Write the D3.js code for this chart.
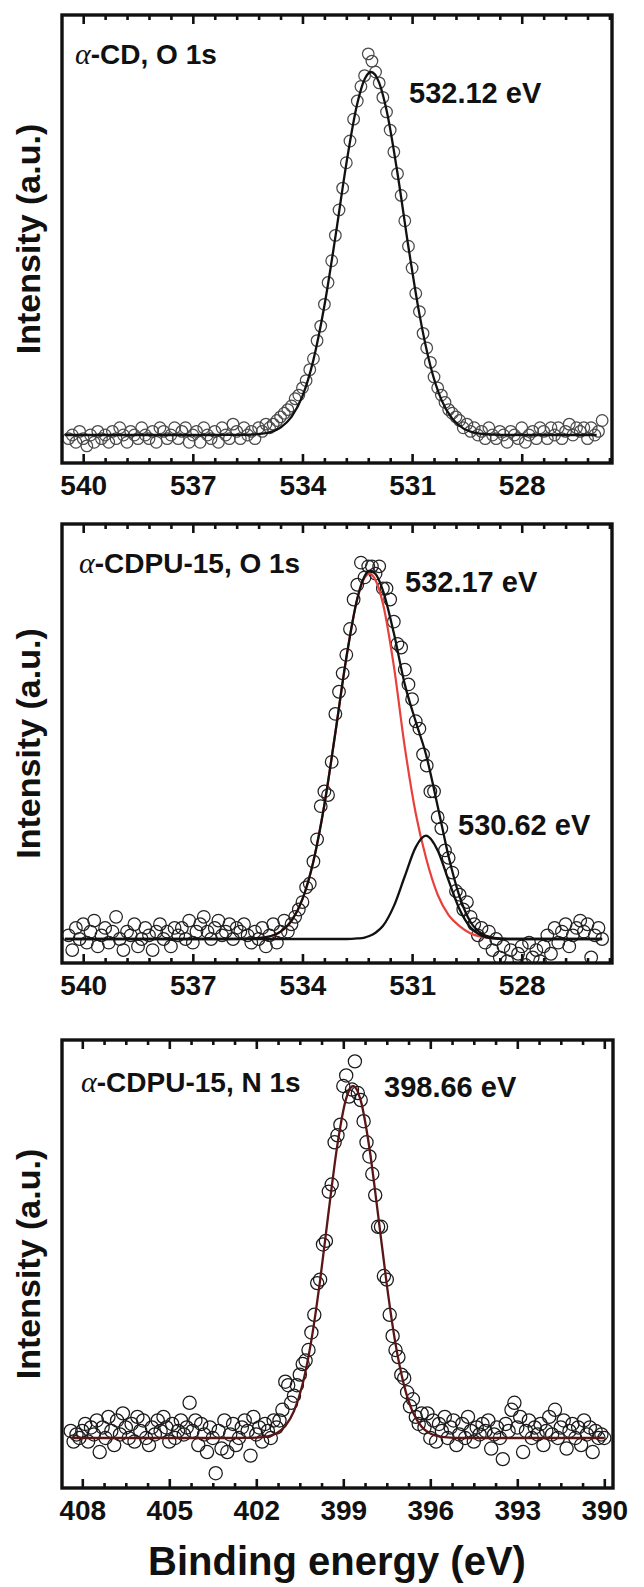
<!DOCTYPE html>
<html>
<head>
<meta charset="utf-8">
<script src="https://cdn.jsdelivr.net/npm/d3@7"></script>
<style>
  body { margin: 0; background: #fff; }
  svg text { font-family: "Liberation Sans", Arial, sans-serif; font-weight: bold; fill: #111; }
</style>
</head>
<body>
<svg id="chart" width="644" height="1587"></svg>
<script>
// ---- O 1s scans (shared energy grid, eV) ----
const oEnergy = [
  540.4,540.3,540.2,540.1,540.0,539.9,539.8,539.7,539.6,539.5,
  539.4,539.3,539.2,539.1,539.0,538.9,538.8,538.7,538.6,538.5,
  538.4,538.3,538.2,538.1,538.0,537.9,537.8,537.7,537.6,537.5,
  537.4,537.3,537.2,537.1,537.0,536.9,536.8,536.7,536.6,536.5,
  536.4,536.3,536.2,536.1,536.0,535.9,535.8,535.7,535.6,535.5,
  535.4,535.3,535.2,535.1,535.0,534.9,534.8,534.7,534.6,534.5,
  534.4,534.3,534.2,534.1,534.0,533.9,533.8,533.7,533.6,533.5,
  533.4,533.3,533.2,533.1,533.0,532.9,532.8,532.7,532.6,532.5,
  532.4,532.3,532.2,532.1,532.0,531.9,531.8,531.7,531.6,531.5,
  531.4,531.3,531.2,531.1,531.0,530.9,530.8,530.7,530.6,530.5,
  530.4,530.3,530.2,530.1,530.0,529.9,529.8,529.7,529.6,529.5,
  529.4,529.3,529.2,529.1,529.0,528.9,528.8,528.7,528.6,528.5,
  528.4,528.3,528.2,528.1,528.0,527.9,527.8,527.7,527.6,527.5,
  527.4,527.3,527.2,527.1,527.0,526.9,526.8,526.7,526.6,526.5,
  526.4,526.3,526.2,526.1,526.0,525.9,525.8
];

// alpha-CD, O 1s (normalised intensity)
const cdO1s = [
  -0.01,0.00,-0.02,0.01,-0.01,-0.03,0.00,-0.02,0.01,-0.01,
  0.00,-0.02,0.01,-0.01,0.02,0.00,-0.02,0.01,0.00,-0.01,
  0.02,0.00,-0.01,0.01,-0.02,0.02,0.01,-0.01,0.00,0.02,
  -0.01,0.01,0.02,-0.02,0.00,0.01,-0.02,0.02,0.00,-0.01,
  0.01,-0.02,0.02,0.00,-0.01,0.03,0.01,-0.01,0.02,0.00,
  0.01,-0.01,0.02,0.01,0.03,0.02,0.03,0.04,0.05,0.06,
  0.07,0.08,0.10,0.11,0.13,0.15,0.18,0.21,0.26,0.30,
  0.36,0.42,0.48,0.55,0.62,0.68,0.75,0.81,0.87,0.92,
  0.96,0.99,1.05,1.03,1.00,0.97,0.93,0.89,0.84,0.78,
  0.72,0.66,0.59,0.52,0.46,0.39,0.34,0.28,0.24,0.20,
  0.16,0.13,0.11,0.09,0.07,0.06,0.05,0.04,0.02,0.03,
  0.01,0.02,0.00,0.01,-0.01,0.02,0.00,-0.01,0.01,0.00,
  -0.02,0.01,0.00,-0.01,0.02,-0.02,0.00,0.01,-0.01,0.02,
  0.01,-0.01,0.02,0.00,0.02,-0.01,0.01,0.03,0.00,0.02,
  0.01,0.02,-0.01,0.02,0.00,0.01,0.04
];

// alpha-CDPU-15, O 1s (normalised intensity)
const cdpuO1s = [
  0.01,-0.03,0.03,0.00,0.04,-0.01,0.02,0.05,-0.02,0.01,
  0.03,-0.01,0.02,0.06,0.00,-0.03,0.02,0.01,0.04,-0.02,
  0.00,0.03,0.01,-0.03,0.02,0.04,0.00,0.02,-0.02,0.03,
  0.01,0.03,0.00,0.05,-0.01,0.02,0.04,0.06,0.02,0.00,
  0.03,0.05,0.01,0.02,0.04,0.00,0.03,0.02,0.04,0.01,
  -0.01,0.02,0.00,0.03,-0.02,0.01,0.04,-0.01,0.02,0.05,
  0.02,0.04,0.06,0.08,0.10,0.14,0.15,0.21,0.27,0.36,
  0.40,0.39,0.48,0.61,0.67,0.72,0.77,0.84,0.92,0.96,
  1.02,0.98,1.01,1.01,0.99,1.01,0.95,0.95,0.92,0.86,
  0.80,0.79,0.73,0.69,0.65,0.59,0.57,0.50,0.47,0.40,
  0.40,0.33,0.30,0.24,0.22,0.18,0.13,0.12,0.08,0.10,
  0.06,0.04,0.01,0.03,-0.01,0.02,-0.03,0.00,-0.05,-0.02,
  -0.06,-0.03,-0.08,-0.04,-0.02,-0.07,-0.01,-0.05,-0.03,-0.06,
  -0.02,0.01,-0.04,0.03,-0.01,0.02,0.04,-0.02,0.01,0.03,
  0.05,0.02,0.04,-0.05,0.01,0.03,0.00
];

// ---- N 1s scan ----
const nEnergy = [
  408.4,408.3,
  408.2,408.1,408.0,407.9,407.8,407.7,407.6,407.5,407.4,407.3,
  407.2,407.1,407.0,406.9,406.8,406.7,406.6,406.5,406.4,406.3,
  406.2,406.1,406.0,405.9,405.8,405.7,405.6,405.5,405.4,405.3,
  405.2,405.1,405.0,404.9,404.8,404.7,404.6,404.5,404.4,404.3,
  404.2,404.1,404.0,403.9,403.8,403.7,403.6,403.5,403.4,403.3,
  403.2,403.1,403.0,402.9,402.8,402.7,402.6,402.5,402.4,402.3,
  402.2,402.1,402.0,401.9,401.8,401.7,401.6,401.5,401.4,401.3,
  401.2,401.1,401.0,400.9,400.8,400.7,400.6,400.5,400.4,400.3,
  400.2,400.1,400.0,399.9,399.8,399.7,399.6,399.5,399.4,399.3,
  399.2,399.1,399.0,398.9,398.8,398.7,398.6,398.5,398.4,398.3,
  398.2,398.1,398.0,397.9,397.8,397.7,397.6,397.5,397.4,397.3,
  397.2,397.1,397.0,396.9,396.8,396.7,396.6,396.5,396.4,396.3,
  396.2,396.1,396.0,395.9,395.8,395.7,395.6,395.5,395.4,395.3,
  395.2,395.1,395.0,394.9,394.8,394.7,394.6,394.5,394.4,394.3,
  394.2,394.1,394.0,393.9,393.8,393.7,393.6,393.5,393.4,393.3,
  393.2,393.1,393.0,392.9,392.8,392.7,392.6,392.5,392.4,392.3,
  392.2,392.1,392.0,391.9,391.8,391.7,391.6,391.5,391.4,391.3,
  391.2,391.1,391.0,390.9,390.8,390.7,390.6,390.5,390.4,390.3,
  390.2,390.1,390.0
];

// alpha-CDPU-15, N 1s (normalised intensity)
const cdpuN1s = [
  0.02,-0.01,
  0.01,0.00,0.02,0.04,-0.01,0.03,0.01,0.05,-0.04,0.03,
  0.00,0.06,0.02,-0.02,0.05,0.01,0.07,0.03,0.00,0.04,
  -0.01,0.06,0.02,0.05,0.00,-0.02,0.03,0.01,0.05,0.02,
  0.06,0.03,-0.01,0.04,0.00,0.02,0.05,0.01,0.03,0.10,
  0.02,0.05,-0.02,0.04,0.01,-0.04,0.03,0.00,-0.10,0.02,
  -0.03,0.05,-0.04,0.01,0.04,-0.02,0.00,0.03,0.05,0.02,
  -0.05,0.06,0.01,0.03,-0.01,0.04,0.02,0.00,0.05,0.03,
  0.05,0.08,0.16,0.15,0.10,0.12,0.15,0.18,0.21,0.22,
  0.25,0.30,0.35,0.44,0.45,0.55,0.56,0.70,0.72,0.84,
  0.86,0.89,1.00,1.03,0.97,0.99,1.07,0.98,0.96,0.90,
  0.84,0.80,0.75,0.69,0.60,0.60,0.46,0.45,0.35,0.29,
  0.25,0.23,0.18,0.17,0.13,0.09,0.11,0.06,0.04,0.07,
  0.03,0.07,0.00,0.05,-0.01,0.04,0.02,0.06,0.00,0.03,
  0.05,-0.02,0.01,0.04,0.00,0.06,0.02,-0.01,0.03,0.01,
  0.04,0.02,0.05,-0.03,0.01,0.03,0.00,-0.06,0.04,0.02,
  0.08,0.10,0.03,0.06,-0.04,0.02,0.05,0.00,0.03,0.01,
  0.04,-0.02,0.02,0.06,0.01,0.08,0.00,0.03,0.05,-0.03,
  0.02,0.04,0.00,0.03,-0.02,0.05,0.01,0.03,-0.04,0.02,
  0.00,0.01,0.00
];

// ---- fitted components ----
const cdFitEnergy = [540.5,537.0,536.0,535.5,535.0,534.6,534.3,534.0,533.7,533.4,533.1,532.8,532.5,532.3,532.12,
  531.9,531.7,531.4,531.1,530.8,530.5,530.2,529.9,529.6,529.2,528.8,528.0,525.95];
const cdFit = [0,0,0.0001,0.0007,0.0053,0.0206,0.0498,0.107,0.207,0.356,0.545,0.747,0.913,0.980,1.0,
  0.970,0.895,0.721,0.518,0.333,0.191,0.0976,0.0446,0.0182,0.0046,0.001,0,0];

const cdpuOFitEnergy = [540.5,537.0,536.0,535.5,535.0,534.6,534.3,534.0,533.7,533.4,533.1,532.8,532.5,532.3,532.17,
  532.0,531.8,531.5,531.2,530.9,530.62,530.3,530.0,529.7,529.4,529.1,528.8,528.4,528.0,525.8];
const cdpuOMain = [0,0,0,0.001,0.005,0.020,0.049,0.108,0.211,0.364,0.559,0.762,0.921,0.979,0.99,
  0.972,0.910,0.74,0.52,0.34,0.22,0.12,0.065,0.035,0.015,0.006,0.002,0,0,0];
const cdpuOMinor = [0,0,0,0,0,0,0,0,0,0,0,0,0.0015,0.004,0.008,
  0.017,0.035,0.089,0.17,0.249,0.28,0.24,0.158,0.08,0.031,0.009,0.002,0,0,0];
const cdpuOEnvelope = [0,0,0,0.001,0.005,0.020,0.049,0.108,0.211,0.364,0.559,0.762,0.923,0.983,0.998,
  0.989,0.945,0.829,0.69,0.589,0.50,0.36,0.223,0.115,0.046,0.015,0.004,0,0,0];

const cdpuNFitEnergy = [408.4,404.0,403.0,402.4,402.0,401.6,401.3,401.0,400.7,400.4,400.1,399.8,399.5,399.2,398.9,398.66,
  398.4,398.1,397.8,397.5,397.2,396.9,396.6,396.3,396.0,395.6,395.2,394.6,390.0];
const cdpuNFit = [0,0,0,0.0002,0.001,0.0048,0.0135,0.034,0.0766,0.154,0.278,0.448,0.647,0.835,0.965,1.0,
  0.959,0.824,0.634,0.436,0.268,0.148,0.0728,0.032,0.0127,0.0031,0.0006,0,0];

// ---- axis ticks and labels ----
const oTicks = [540, 537, 534, 531, 528];
const nTicks = [408, 405, 402, 399, 396, 393, 390];
const yTitle = "Intensity (a.u.)";
const xTitle = "Binding energy (eV)";

const svg = d3.select("#chart");

const panels = [
  {
    left: 62, right: 612, top: 15, bottom: 463, base: 435, peak: 72,
    xDomain: [540.58, 525.53], ticks: oTicks, minorStep: 0.6,
    energy: oEnergy, counts: cdO1s, pointStroke: "#4a4a4a", r: 5.8,
    fits: [{ e: cdFitEnergy, v: cdFit, color: "#111", w: 2.3 }],
    label: { pre: "\u03b1", text: "-CD, O 1s", x: 75, y: 64 },
    notes: [{ text: "532.12 eV", x: 409, y: 103 }]
  },
  {
    left: 62, right: 612, top: 524, bottom: 963, base: 939, peak: 570,
    xDomain: [540.58, 525.53], ticks: oTicks, minorStep: 0.6,
    energy: oEnergy, counts: cdpuO1s, pointStroke: "#222", r: 6.3,
    fits: [
      { e: cdpuOFitEnergy, v: cdpuOMain, color: "#e8403c", w: 2.2 },
      { e: cdpuOFitEnergy, v: cdpuOMinor, color: "#111", w: 2.3 },
      { e: cdpuOFitEnergy, v: cdpuOEnvelope, color: "#111", w: 2.3 }
    ],
    label: { pre: "\u03b1", text: "-CDPU-15, O 1s", x: 79, y: 573 },
    notes: [{ text: "532.17 eV", x: 405, y: 592 }, { text: "530.62 eV", x: 458, y: 835 }]
  },
  {
    left: 62, right: 613, top: 1040, bottom: 1488, base: 1438, peak: 1086,
    xDomain: [408.7, 389.7], ticks: nTicks, minorStep: 0.75,
    energy: nEnergy, counts: cdpuN1s, pointStroke: "#1a1a1a", r: 6.6,
    fits: [{ e: cdpuNFitEnergy, v: cdpuNFit, color: "#5a1616", w: 2.3 }],
    label: { pre: "\u03b1", text: "-CDPU-15, N 1s", x: 81, y: 1092 },
    notes: [{ text: "398.66 eV", x: 384, y: 1097 }]
  }
];

panels.forEach((p, i) => {
  const g = svg.append("g");
  const x = d3.scaleLinear().domain(p.xDomain).range([p.left, p.right]);
  const y = d3.scaleLinear().domain([0, 1]).range([p.base, p.peak]);

  const clipId = "clip" + i;
  svg.append("clipPath").attr("id", clipId)
    .append("rect").attr("x", p.left).attr("y", p.top)
    .attr("width", p.right - p.left).attr("height", p.bottom - p.top);

  const plot = g.append("g").attr("clip-path", `url(#${clipId})`);

  // measured points: open circles
  plot.append("g").selectAll("circle")
    .data(d3.zip(p.energy, p.counts))
    .join("circle")
    .attr("cx", d => x(d[0]))
    .attr("cy", d => y(d[1]))
    .attr("r", p.r)
    .attr("fill", "none")
    .attr("stroke", p.pointStroke)
    .attr("stroke-width", 1.25);

  // fitted curves
  p.fits.forEach(f => {
    const line = d3.line().x(d => x(d[0])).y(d => y(d[1])).curve(d3.curveMonotoneX);
    plot.append("path")
      .datum(d3.zip(f.e, f.v))
      .attr("d", line)
      .attr("fill", "none")
      .attr("stroke", f.color)
      .attr("stroke-width", f.w)
      .attr("stroke-linejoin", "round");
  });

  // axes: major + minor ticks on bottom and top, pointing inward
  const lo = Math.min(...p.xDomain), hi = Math.max(...p.xDomain);
  const start = p.ticks[0];
  const minor = d3.range(0, Math.round((start - lo) / p.minorStep) + 1)
    .map(k => +(start - k * p.minorStep).toFixed(2))
    .filter(v => v >= lo && v <= hi && !p.ticks.includes(v));

  const styleAxis = sel => {
    sel.select(".domain").remove();
    sel.selectAll(".tick line").attr("stroke", "#111").attr("stroke-width", 2.6);
    sel.selectAll(".tick text").attr("font-size", 28).attr("fill", "#111")
      .attr("font-family", "Liberation Sans, Arial, sans-serif").attr("font-weight", "bold");
  };

  g.append("g").attr("transform", `translate(0,${p.bottom})`)
    .call(d3.axisBottom(x).tickValues(p.ticks).tickSize(-9).tickPadding(12).tickFormat(d3.format("d")))
    .call(styleAxis);
  g.append("g").attr("transform", `translate(0,${p.bottom})`)
    .call(d3.axisBottom(x).tickValues(minor).tickSize(-5).tickFormat(""))
    .call(styleAxis);
  g.append("g").attr("transform", `translate(0,${p.top})`)
    .call(d3.axisTop(x).tickValues(p.ticks).tickSize(-9).tickFormat(""))
    .call(styleAxis);
  g.append("g").attr("transform", `translate(0,${p.top})`)
    .call(d3.axisTop(x).tickValues(minor).tickSize(-5).tickFormat(""))
    .call(styleAxis);

  // frame
  g.append("rect")
    .attr("x", p.left).attr("y", p.top)
    .attr("width", p.right - p.left).attr("height", p.bottom - p.top)
    .attr("fill", "none").attr("stroke", "#111").attr("stroke-width", 3.4);

  // sample label
  const lab = g.append("text").attr("x", p.label.x).attr("y", p.label.y).attr("font-size", 28);
  lab.append("tspan").attr("font-family", "Liberation Serif, serif").attr("font-style", "italic")
    .attr("font-weight", "normal").attr("font-size", 30).text(p.label.pre);
  lab.append("tspan").text(p.label.text);

  // peak positions
  p.notes.forEach(n => {
    g.append("text").attr("x", n.x).attr("y", n.y).attr("font-size", 29).text(n.text);
  });

  // y title
  g.append("text")
    .attr("transform", `translate(40,${(p.top + p.bottom) / 2}) rotate(-90)`)
    .attr("text-anchor", "middle")
    .attr("font-size", 34)
    .text(yTitle);
});

svg.append("text")
  .attr("x", 337).attr("y", 1575)
  .attr("text-anchor", "middle")
  .attr("font-size", 40)
  .text(xTitle);
</script>
</body>
</html>
